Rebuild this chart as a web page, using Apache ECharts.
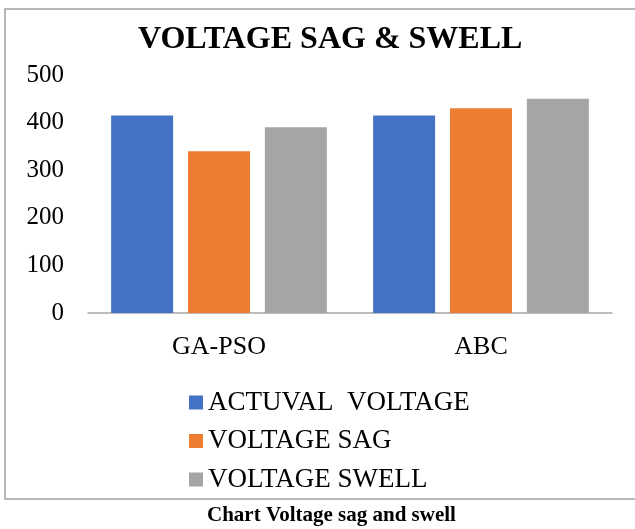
<!DOCTYPE html>
<html>
<head>
<meta charset="utf-8">
<script src="https://cdn.jsdelivr.net/npm/echarts@6/dist/echarts.min.js"></script>
<style>
html,body{margin:0;padding:0;background:#fff;}
#chart{width:635px;height:529px;}
</style>
</head>
<body>
<div id="chart"></div>
<script>
var categories = ["GA-PSO", "ABC"];
var seriesNames = ["ACTUVAL  VOLTAGE", "VOLTAGE SAG", "VOLTAGE SWELL"];
var actualVoltage = [415, 415];
var voltageSag = [340, 430];
var voltageSwell = [390, 450];
var yTicks = [0, 100, 200, 300, 400, 500];
var colors = ["#4472C4", "#ED7D31", "#A5A5A5"];

var FONT = "'Liberation Serif', 'Times New Roman', serif";
var chart = echarts.init(document.getElementById('chart'), null, {renderer: 'canvas'});
var values = [actualVoltage, voltageSag, voltageSwell];
chart.setOption({
  animation: false,
  backgroundColor: '#fff',
  color: colors,
  graphic: [{
    type: 'rect',
    shape: {x: 5, y: 9, width: 640, height: 490},
    style: {fill: 'none', stroke: '#a0a0a0', lineWidth: 1.5},
    silent: true, z: -1
  }],
  title: [{
    text: 'VOLTAGE SAG & SWELL',
    left: 133, top: 19,
    textStyle: {fontFamily: FONT, fontWeight: 'bold', fontSize: 32, color: '#000'}
  }, {
    text: 'Chart Voltage sag and swell',
    left: 202, top: 500,
    textStyle: {fontFamily: FONT, fontWeight: 'bold', fontSize: 21, color: '#000'}
  }],
  legend: {
    orient: 'vertical',
    left: 184, top: 384,
    itemWidth: 14, itemHeight: 14, itemGap: 11.5,
    icon: 'rect',
    data: seriesNames,
    textStyle: {fontFamily: FONT, fontSize: 27, color: '#000', lineHeight: 26}
  },
  grid: {left: 88, right: 23, top: 75, bottom: 216},
  xAxis: {
    type: 'category',
    data: categories,
    axisTick: {show: false},
    axisLine: {lineStyle: {color: '#a6a6a6', width: 1.5}},
    axisLabel: {fontFamily: FONT, fontSize: 26, color: '#000', margin: 21}
  },
  yAxis: {
    type: 'value',
    min: yTicks[0], max: yTicks[yTicks.length - 1], interval: 100,
    axisLine: {show: false},
    axisTick: {show: false},
    splitLine: {show: false},
    axisLabel: {fontFamily: FONT, fontSize: 25, color: '#000', margin: 24}
  },
  series: seriesNames.map(function (n, i) {
    return {
      name: n, type: 'bar', data: values[i],
      barWidth: 62, barGap: '24%',
      itemStyle: {color: colors[i]}
    };
  })
});
</script>
</body>
</html>
